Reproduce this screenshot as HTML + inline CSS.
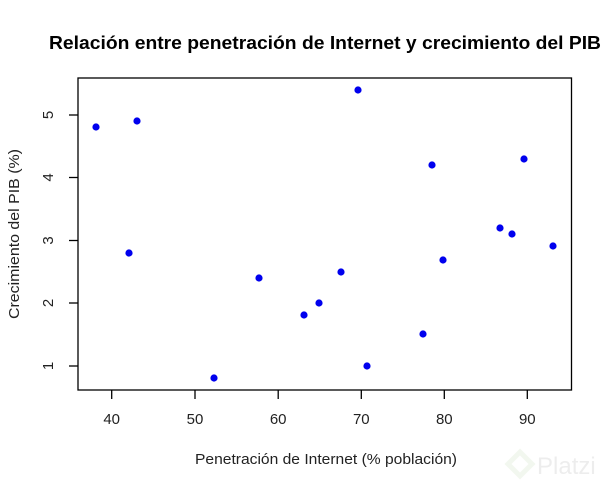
<!DOCTYPE html>
<html><head><meta charset="utf-8"><style>body{margin:0;background:#fff}</style></head><body>
<svg width="612" height="488" xmlns="http://www.w3.org/2000/svg" font-family="Liberation Sans, Arial, sans-serif">
<rect width="612" height="488" fill="#fff"/>
<text x="325" y="49" text-anchor="middle" font-size="18" font-weight="bold" textLength="552" lengthAdjust="spacingAndGlyphs">Relación entre penetración de Internet y crecimiento del PIB</text>
<rect x="78" y="78" width="493.5" height="312" fill="none" stroke="#000" stroke-width="1.3"/>
<g stroke="#000" stroke-width="1.3">
<line x1="111.7" y1="390" x2="111.7" y2="399"/>
<line x1="195" y1="390" x2="195" y2="399"/>
<line x1="278.2" y1="390" x2="278.2" y2="399"/>
<line x1="361.3" y1="390" x2="361.3" y2="399"/>
<line x1="444.3" y1="390" x2="444.3" y2="399"/>
<line x1="527.3" y1="390" x2="527.3" y2="399"/>
<line x1="69" y1="366" x2="78" y2="366"/>
<line x1="69" y1="303" x2="78" y2="303"/>
<line x1="69" y1="240.5" x2="78" y2="240.5"/>
<line x1="69" y1="177.5" x2="78" y2="177.5"/>
<line x1="69" y1="115" x2="78" y2="115"/>
</g>
<g font-size="15" text-anchor="middle" fill="#222">
<text x="111.7" y="424">40</text><text x="195" y="424">50</text><text x="278.2" y="424">60</text>
<text x="361.3" y="424">70</text><text x="444.3" y="424">80</text><text x="527.3" y="424">90</text>
<text transform="translate(53,366) rotate(-90)">1</text>
<text transform="translate(53,303) rotate(-90)">2</text>
<text transform="translate(53,240.5) rotate(-90)">3</text>
<text transform="translate(53,177.5) rotate(-90)">4</text>
<text transform="translate(53,115) rotate(-90)">5</text>
<text x="326" y="464" textLength="262" lengthAdjust="spacingAndGlyphs">Penetración de Internet (% población)</text>
<text transform="translate(19,234) rotate(-90)" textLength="170" lengthAdjust="spacingAndGlyphs">Crecimiento del PIB (%)</text>
</g>
<g fill="#0000ee">
<circle cx="96" cy="127" r="3.6"/><circle cx="137" cy="121" r="3.6"/><circle cx="129" cy="253" r="3.6"/>
<circle cx="214" cy="378" r="3.6"/><circle cx="259" cy="278" r="3.6"/><circle cx="304" cy="315" r="3.6"/>
<circle cx="319" cy="303" r="3.6"/><circle cx="341" cy="272" r="3.6"/><circle cx="358" cy="90" r="3.6"/>
<circle cx="367" cy="366" r="3.6"/><circle cx="423" cy="334" r="3.6"/><circle cx="432" cy="165" r="3.6"/>
<circle cx="443" cy="260" r="3.6"/><circle cx="500" cy="228" r="3.6"/><circle cx="512" cy="234" r="3.6"/>
<circle cx="524" cy="159" r="3.6"/><circle cx="553" cy="246" r="3.6"/>
</g>
<g opacity="0.25" fill="#ccc">
<path d="M520 452 l12 12 l-12 12 l-12 -12z" fill="none" stroke="#cde0c0" stroke-width="5"/>
<text x="537" y="474" font-size="24" fill="#bbb">Platzi</text>
</g>
</svg>
</body></html>
